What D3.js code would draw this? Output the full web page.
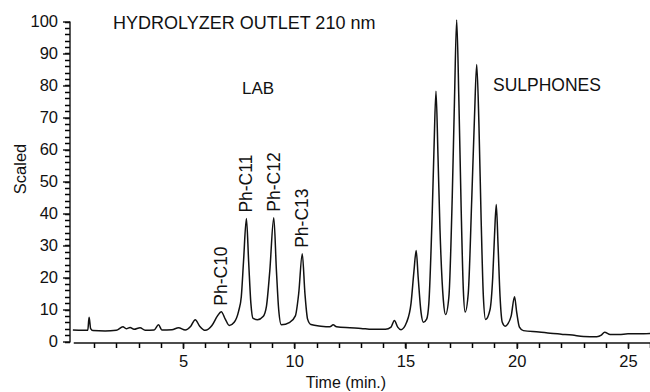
<!DOCTYPE html>
<html>
<head>
<meta charset="utf-8">
<script src="https://cdn.jsdelivr.net/npm/d3@7/dist/d3.min.js"></script>
<style>
  html, body { margin: 0; padding: 0; background: #fff; }
  svg { display: block; font-family: "Liberation Sans", Arial, Helvetica, sans-serif; }
</style>
</head>
<body>
<svg id="chart" width="650" height="392"></svg>
<script>
// ---- data ----
const times = [
  0.05, 0.5, 0.72, 0.78, 0.85, 0.95, 1.5, 2.0, 2.3, 2.45, 2.62, 2.8, 3.07, 3.3, 3.7, 3.9, 4.05, 4.5, 4.8, 5.1,
  5.35, 5.55, 5.75, 6.0, 6.3, 6.55, 6.72, 6.9, 7.08, 7.3, 7.5, 7.62, 7.72, 7.85, 7.95, 8.05, 8.15, 8.35, 8.6, 8.75,
  8.9, 9.08, 9.2, 9.3, 9.42, 9.8, 10.05, 10.2, 10.36, 10.48, 10.6, 10.75, 11.2, 11.6, 11.75, 11.9, 12.5, 13.0, 13.5, 14.1,
  14.35, 14.5, 14.65, 14.8, 15.05, 15.25, 15.38, 15.48, 15.57, 15.7, 15.8, 15.95, 16.05, 16.2, 16.28, 16.37, 16.46, 16.55, 16.7, 16.8,
  16.95, 17.1, 17.2, 17.3, 17.4, 17.5, 17.6, 17.68, 17.82, 17.98, 18.1, 18.2, 18.3, 18.4, 18.5, 18.6, 18.8, 18.92, 19.0, 19.08,
  19.16, 19.25, 19.35, 19.48, 19.6, 19.75, 19.9, 20.0, 20.12, 20.3, 21.0, 21.5, 22.0, 22.5, 23.0, 23.6, 23.8, 23.95, 24.2, 24.6,
  25.0, 25.5, 26.0
];
const scaled = [
  3.6, 3.5, 3.5, 7.6, 4.0, 3.4, 3.3, 3.5, 4.6, 4.0, 4.4, 3.8, 4.3, 3.5, 3.6, 5.2, 3.6, 3.7, 4.3, 3.6,
  4.8, 6.8, 4.8, 3.5, 5.0, 8.0, 9.3, 7.0, 5.0, 6.0, 9.5, 14, 25, 38.4, 25, 12, 7.2, 6.8, 7.8, 11,
  22, 38.7, 22, 10, 5.2, 6.0, 8.0, 15, 27.4, 15, 7.0, 5.3, 4.8, 4.6, 5.2, 4.6, 4.3, 4.1, 3.8, 3.8,
  4.5, 6.6, 4.5, 3.7, 6.0, 12, 22, 28.4, 20, 9, 6.0, 7.0, 12, 40, 60, 78.2, 58, 35, 13, 8.4,
  14, 45, 75, 100.5, 75, 42, 16, 9.2, 15, 45, 70, 86.6, 68, 38, 14, 6.9, 10, 20, 33, 42.8,
  30, 14, 6.0, 4.8, 5.5, 8.0, 14, 9.0, 4.5, 3.4, 3.0, 2.6, 2.3, 2.0, 1.6, 1.5, 2.0, 2.9, 2.2, 2.2,
  2.4, 2.4, 2.5
];
const peakNames = ["Ph-C10", "Ph-C11", "Ph-C12", "Ph-C13"];
const peakTimes = [6.72, 7.85, 9.08, 10.36];
const yTickValues = [0, 10, 20, 30, 40, 50, 60, 70, 80, 90, 100];
const yMinorTicks = d3.range(0, 101, 2);
const xTickValues = [5, 10, 15, 20, 25];
const xMinorTicks = d3.range(1, 27, 1);
const titleText = "HYDROLYZER OUTLET 210 nm";
const groupLabels = ["LAB", "SULPHONES"];
const xLabel = "Time (min.)";
const yLabel = "Scaled";

// ---- drawing ----
const svg = d3.select("#chart");
const x = d3.scaleLinear().domain([0, 26]).range([71.75, 650.25]);
const y = d3.scaleLinear().domain([0, 100]).range([341.5, 21.5]);
const ink = "#111";
const font = "'Liberation Sans', Arial, sans-serif";

// Minor ticks (drawn from the scales)
svg.append("g").selectAll("line").data(yMinorTicks).join("line")
  .attr("x1", 65).attr("x2", 70)
  .attr("y1", d => Math.round(y(d)) + 0.5).attr("y2", d => Math.round(y(d)) + 0.5)
  .attr("stroke", "#000").attr("stroke-width", 1.5);
svg.append("g").selectAll("line").data(xMinorTicks).join("line")
  .attr("x1", d => Math.round(x(d)) + 0.5).attr("x2", d => Math.round(x(d)) + 0.5)
  .attr("y1", 343).attr("y2", 348)
  .attr("stroke", "#000").attr("stroke-width", 1.5);

// Y axis
const yAxis = d3.axisLeft(y).tickValues(yTickValues).tickSize(7).tickPadding(5);
svg.append("g").attr("transform", "translate(70,0)").call(yAxis)
  .call(g => g.select(".domain").attr("stroke", ink).attr("stroke-width", 1.4).attr("d", `M0,${y(0)+1}V${y(100)}`))
  .call(g => g.selectAll(".tick line").attr("stroke", ink).attr("stroke-width", 1.4))
  .call(g => g.selectAll(".tick text").attr("fill", ink).style("font-size", "16.5px").style("font-family", font));

// X axis
const xAxis = d3.axisBottom(x).tickValues(xTickValues).tickSize(6).tickPadding(6);
svg.append("g").attr("transform", "translate(0,343)").call(xAxis)
  .call(g => g.select(".domain").attr("stroke", ink).attr("stroke-width", 1.3).attr("d", `M${x(0)+2},0H${x(26)}`))
  .call(g => g.selectAll(".tick line").attr("stroke", ink).attr("stroke-width", 1.4))
  .call(g => g.selectAll(".tick text").attr("fill", ink).style("font-size", "16.5px").style("font-family", font));

// Trace
const pts = times.map((t, i) => [t, scaled[i]]);
const line = d3.line().x(d => x(d[0])).y(d => y(d[1])).curve(d3.curveMonotoneX);
svg.append("path").datum(pts).attr("d", line)
  .attr("fill", "none").attr("stroke", ink).attr("stroke-width", 1.5).attr("stroke-linejoin", "round");

// Peak labels (rotated), placed just above each peak
peakNames.forEach((name, i) => {
  const t = peakTimes[i];
  const v = scaled[times.indexOf(t)];
  svg.append("text")
    .attr("transform", `translate(${x(t) + 6},${y(v) - 6}) rotate(-90)`)
    .attr("fill", ink).style("font-size", "17.5px")
    .text(name);
});

// Title and group labels
svg.append("text").attr("x", 113).attr("y", 29).attr("fill", ink).style("font-size", "18px").text(titleText);
svg.append("text").attr("x", 242).attr("y", 94).attr("fill", ink).style("font-size", "17px").text(groupLabels[0]);
svg.append("text").attr("x", 493).attr("y", 91).attr("fill", ink).style("font-size", "17.5px").text(groupLabels[1]);

// Axis titles
svg.append("text").attr("x", 346).attr("y", 388).attr("text-anchor", "middle")
  .attr("fill", ink).style("font-size", "16px").text(xLabel);
svg.append("text").attr("transform", "translate(26,169) rotate(-90)").attr("text-anchor", "middle")
  .attr("fill", ink).style("font-size", "16.5px").text(yLabel);
</script>
</body>
</html>
